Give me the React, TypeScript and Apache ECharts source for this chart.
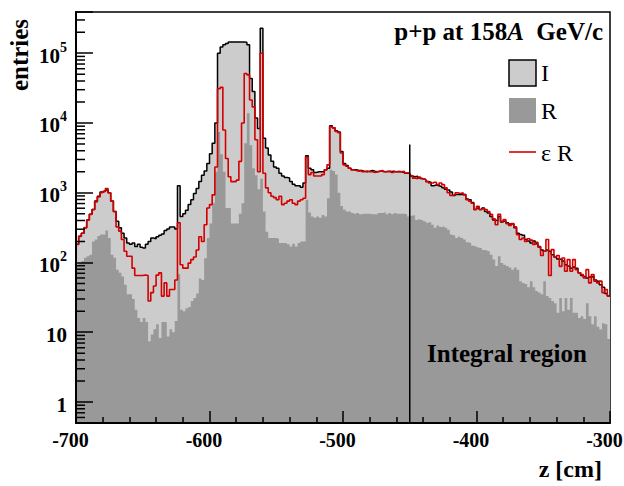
import React, { useEffect, useRef } from 'react';
import * as echarts from 'echarts';

// Binning: 2 cm bins from -700 to -300 cm
const X_MIN = -700;
const X_MAX = -300;
const BIN_WIDTH = 2;

// I : all entries (light grey, black outline)
const I_counts = [
  182, 237, 263, 316, 407, 490, 575, 759, 891, 1023,
  1047, 1096, 1000, 759, 537, 389, 316, 263, 224, 191,
  182, 191, 170, 182, 166, 162, 182, 200, 224, 219,
  234, 245, 257, 288, 302, 324, 324, 302, 1259, 457,
  501, 562, 676, 794, 977, 1148, 1445, 1778, 2042, 2630,
  3631, 5129, 10000, 100000, 123000, 132000, 138000, 145000, 145000, 145000,
  145000, 145000, 145000, 144000, 132000, 43600, 28200, 11750, 8318, 229000,
  6026, 4365, 3467, 2818, 2344, 2239, 1905, 1738, 1660, 1622,
  1445, 1318, 1259, 1259, 1202, 1380, 3388, 2239, 2138, 1950,
  1995, 1995, 1995, 2138, 2239, 9120, 8511, 7762, 7413, 3890,
  2630, 2455, 2239, 2138, 2138, 2089, 2089, 2042, 2000, 2042,
  2089, 2042, 2000, 2042, 2042, 1995, 2042, 2000, 2042, 1995,
  1995, 1995, 1950, 1905, 1905, 1738, 1698, 1720, 1622, 1585,
  1549, 1445, 1413, 1259, 1288, 1259, 1230, 1175, 1122, 1096,
  1023, 912, 944, 944, 955, 944, 813, 794, 724, 575,
  603, 575, 603, 537, 513, 457, 407, 398, 457, 380,
  389, 372, 355, 355, 316, 263, 251, 245, 214, 204,
  191, 204, 186, 170, 151, 145, 151, 145, 129, 120,
  112, 110, 105, 93, 89, 83, 86, 83, 71, 65,
  63, 60, 62, 63, 56, 54, 48, 44, 36, 33,
];

// R : reconstructed (dark grey)
const R_counts = [
  93, 98, 105, 117, 123, 129, 200, 214, 240, 251,
  251, 288, 224, 129, 117, 79, 71, 63, 48, 35,
  35, 30, 21, 16, 14, 16, 14, 7.4, 9.3, 11,
  13, 8.3, 14, 14, 8.7, 11, 10, 14.5, 68, 21,
  20, 22, 23, 28, 31, 36, 59, 56, 115, 224,
  363, 708, 2000, 7413, 3548, 1995, 603, 603, 363, 363,
  363, 501, 708, 5129, 13800, 4786, 2239, 1778, 1122, 1585,
  537, 275, 224, 224, 224, 219, 191, 191, 191, 182,
  170, 186, 170, 191, 200, 200, 794, 520, 457, 437,
  457, 437, 479, 457, 832, 2138, 2042, 1820, 1000, 646,
  575, 537, 537, 513, 501, 513, 490, 501, 501, 501,
  490, 490, 490, 513, 513, 525, 490, 513, 490, 513,
  501, 501, 501, 490, 457, 468, 479, 407, 417, 407,
  389, 372, 380, 347, 316, 339, 324, 331, 316, 295,
  251, 245, 224, 234, 224, 214, 195, 191, 174, 170,
  166, 162, 151, 151, 145, 129, 110, 89, 123, 98,
  93, 89, 85, 79, 85, 79, 54, 51, 49, 44,
  54, 44, 39, 37, 35, 54, 33, 31, 28, 26,
  19, 31, 20, 31, 21, 31, 19, 19, 16, 17,
  15.5, 26, 17, 13, 17, 12, 11, 13.5, 13, 8,
];

// εR : efficiency-weighted reconstructed (red line)
const eR_counts = [
  182, 237, 263, 316, 407, 490, 575, 740, 870, 1000,
  1047, 1148, 1000, 759, 537, 324, 282, 214, 145, 123,
  123, 83, 65, 65, 65, 66, 65, 28, 37, 46,
  66, 71, 33, 51, 33, 41, 41, 56, 372, 93,
  83, 83, 98, 110, 120, 151, 234, 200, 347, 603,
  676, 933, 2344, 30900, 32400, 7943, 3090, 1698, 1445, 1445,
  1514, 2818, 10000, 51300, 49000, 21400, 17000, 5754, 1995, 100000,
  1905, 1175, 1000, 891, 851, 794, 891, 676, 708, 759,
  794, 708, 676, 759, 794, 832, 3236, 1820, 1950, 1738,
  1738, 1738, 1820, 2138, 2512, 8913, 8511, 7586, 7244, 3715,
  2512, 2399, 2239, 2138, 2089, 2042, 2089, 1995, 2042, 1995,
  1995, 1950, 1995, 2042, 2089, 2000, 1995, 2042, 1950, 2000,
  2027, 1995, 2027, 1923, 1923, 1758, 1622, 1585, 1683, 1585,
  1549, 1445, 1380, 1380, 1413, 1306, 1380, 1306, 1175, 1000,
  912, 933, 1000, 977, 1000, 933, 794, 759, 708, 575,
  638, 575, 589, 575, 537, 490, 422, 347, 490, 389,
  412, 361, 339, 361, 324, 251, 214, 224, 200, 219,
  209, 182, 195, 166, 126, 145, 214, 65, 153, 120,
  126, 88, 116, 75, 110, 75, 110, 79, 71, 67,
  60, 79, 51, 67, 54, 51, 54, 37, 41, 33,
];

const INTEGRAL_START = -450;
const INTEGRAL_LINE_TOP = 4900;

const Y_MIN = 0.5;
const Y_MAX = 3.9e5;

const FONT = '"Liberation Serif", "Times New Roman", serif';

function toSteps(counts: number[]): number[][] {
  const pts = counts.map((c, i) => [X_MIN + i * BIN_WIDTH, c]);
  pts.push([X_MAX, counts[counts.length - 1]]);
  return pts;
}

function minorTickValues(): number[] {
  const out: number[] = [];
  for (let e = -1; e <= 5; e++) {
    for (let m = 2; m <= 9; m++) {
      const v = m * Math.pow(10, e);
      if (v > Y_MIN && v < Y_MAX) out.push(v);
    }
  }
  return out;
}

export default function App() {
  const ref = useRef<HTMLDivElement>(null);

  useEffect(() => {
    if (!ref.current) return;
    const chart = echarts.init(ref.current, undefined, { renderer: 'svg' });

    const tickRender = (len: number) => (params: any, api: any) => {
      const p = api.coord([X_MIN, api.value(1)]);
      return {
        type: 'line',
        shape: { x1: p[0], y1: p[1], x2: p[0] + len, y2: p[1] },
        style: { stroke: '#000', lineWidth: 1.5 },
      };
    };

    const option: any = {
      animation: false,
      backgroundColor: '#fff',
      textStyle: { fontFamily: FONT },
      title: {
        text: 'p+p at 158{i|A}  GeV/c',
        right: 16,
        top: 14,
        textStyle: {
          fontFamily: FONT,
          fontSize: 25,
          fontWeight: 'bold',
          color: '#000',
          rich: {
            i: { fontFamily: FONT, fontSize: 25, fontWeight: 'bold', fontStyle: 'italic', color: '#000' },
          },
        },
      },
      grid: {
        left: 76, right: 14, top: 12, bottom: 63,
        containLabel: false,
        outerBoundsMode: 'none',
        show: true, borderColor: '#000', borderWidth: 1.5,
        backgroundColor: 'transparent',
      },
      xAxis: {
        type: 'value',
        min: X_MIN,
        max: X_MAX,
        interval: 100,
        z: 10,
        axisLine: { show: true, onZero: false, lineStyle: { color: '#000', width: 2 } },
        axisTick: { show: true, inside: true, length: 12, lineStyle: { color: '#000', width: 1.5 } },
        minorTick: { show: true, splitNumber: 5, length: 6, lineStyle: { color: '#000', width: 1.5 } },
        splitLine: { show: false },
        axisLabel: {
          color: '#000', fontSize: 20, fontWeight: 'bold', fontFamily: FONT, margin: 7,
          padding: [0, 11, 0, 0],
          hideOverlap: false,
          formatter: (v: number) => String(v),
        },
      },
      yAxis: {
        type: 'log',
        logBase: 10,
        min: Y_MIN,
        max: Y_MAX,
        z: 10,
        axisLine: { show: true, lineStyle: { color: '#000', width: 2 } },
        axisTick: { show: true, inside: true, length: 17, lineStyle: { color: '#000', width: 1.5 } },
        splitLine: { show: false },
        axisLabel: {
          margin: 9,
          color: '#000',
          formatter: (v: number) => {
            const l = Math.log10(v);
            const e = Math.round(l);
            if (Math.abs(l - e) > 1e-6) return '';
            if (e === 0) return '{b|1}';
            if (e === 1) return '{b|10}';
            return '{b|10}{s|' + e + '}';
          },
          rich: {
            b: { fontFamily: FONT, fontSize: 21, fontWeight: 'bold', color: '#000', lineHeight: 26, verticalAlign: 'bottom' },
            s: { fontFamily: FONT, fontSize: 14, fontWeight: 'bold', color: '#000', lineHeight: 26, verticalAlign: 'top' },
          },
        },
      },
      graphic: [
        {
          type: 'text', x: 19, y: 55, rotation: Math.PI / 2,
          style: { text: 'entries', font: 'bold 25px ' + FONT, fill: '#000', align: 'center', verticalAlign: 'middle' },
        },
        {
          type: 'text', x: 602, y: 469,
          style: { text: 'z [cm]', font: 'bold 24px ' + FONT, fill: '#000', align: 'right', verticalAlign: 'middle' },
        },
        {
          type: 'text', x: 427, y: 353, z: 20,
          style: { text: 'Integral region', font: 'bold 25px ' + FONT, fill: '#000', align: 'left', verticalAlign: 'middle' },
        },
        {
          type: 'rect', shape: { x: 509, y: 60, width: 27, height: 26 },
          style: { fill: '#cccccc', stroke: '#000', lineWidth: 1.5 },
        },
        {
          type: 'rect', shape: { x: 509, y: 98, width: 27, height: 25 },
          style: { fill: '#999999' },
        },
        {
          type: 'line', shape: { x1: 509, y1: 152, x2: 536, y2: 152 },
          style: { stroke: '#d40000', lineWidth: 1.6 },
        },
        {
          type: 'text', x: 541, y: 73,
          style: { text: 'I', font: '24px ' + FONT, fill: '#000', align: 'left', verticalAlign: 'middle' },
        },
        {
          type: 'text', x: 541, y: 111,
          style: { text: 'R', font: '24px ' + FONT, fill: '#000', align: 'left', verticalAlign: 'middle' },
        },
        {
          type: 'text', x: 541, y: 153,
          style: { text: 'ε R', font: '24px ' + FONT, fill: '#000', align: 'left', verticalAlign: 'middle' },
        },
      ],
      series: [
        {
          name: 'I', type: 'line', step: 'end', data: toSteps(I_counts),
          showSymbol: false, symbol: 'none', z: 2,
          lineStyle: { color: '#000', width: 1.5 },
          areaStyle: { color: '#cccccc', opacity: 1, origin: 'start' },
        },
        {
          name: 'R', type: 'line', step: 'end', data: toSteps(R_counts),
          showSymbol: false, symbol: 'none', z: 3,
          lineStyle: { width: 0, color: '#999999' },
          areaStyle: { color: '#999999', opacity: 1, origin: 'start' },
        },
        {
          name: 'εR', type: 'line', step: 'end', data: toSteps(eR_counts),
          showSymbol: false, symbol: 'none', z: 4,
          lineStyle: { color: '#d40000', width: 1.6 },
        },
        {
          name: 'integral', type: 'line',
          data: [[INTEGRAL_START, Y_MIN], [INTEGRAL_START, INTEGRAL_LINE_TOP]],
          showSymbol: false, symbol: 'none', z: 5,
          lineStyle: { color: '#000', width: 1.5 },
        },
        {
          name: 'minorTicks', type: 'custom', coordinateSystem: 'cartesian2d',
          data: minorTickValues().map((v) => [X_MIN, v]),
          encode: { x: 0, y: 1 }, z: 10, silent: true,
          renderItem: tickRender(9),
        },
      ],
    };

    chart.setOption(option);
    return () => chart.dispose();
  }, []);

  return (
    <div
      ref={ref}
      style={{ position: 'absolute', left: 0, top: 0, width: 624, height: 486 }}
    />
  );
}
